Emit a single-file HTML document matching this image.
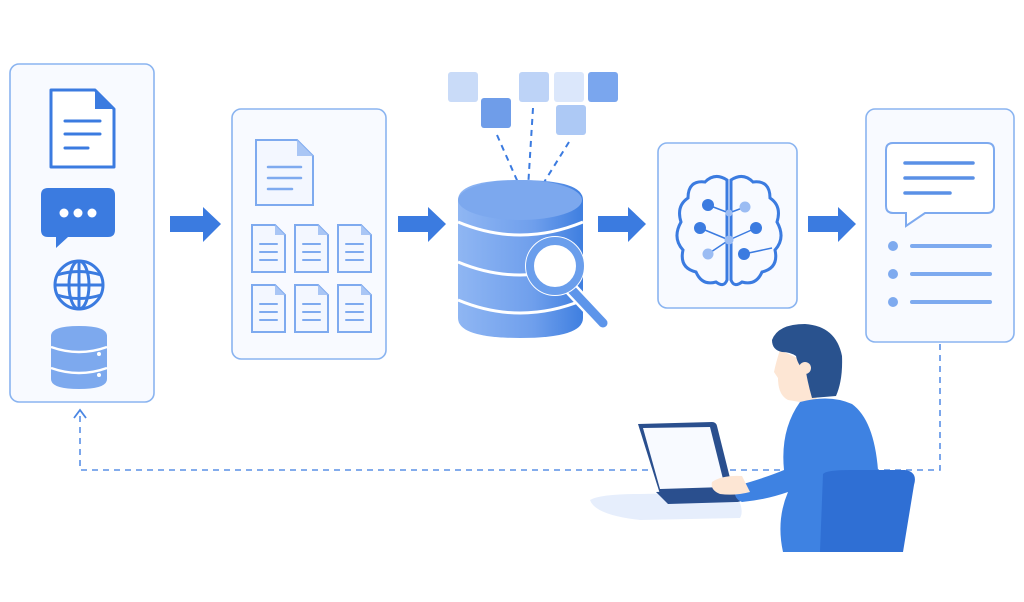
<!DOCTYPE html>
<html><head><meta charset="utf-8"><style>
html,body{margin:0;padding:0;background:#fff;}
svg{display:block}
</style></head><body>
<svg width="1024" height="602" viewBox="0 0 1024 602" xmlns="http://www.w3.org/2000/svg">
<defs>
<linearGradient id="dbg" x1="0" x2="1">
<stop offset="0" stop-color="#8fb6f3"/><stop offset="0.6" stop-color="#6f9fec"/><stop offset="1" stop-color="#3f7fe0"/>
</linearGradient>
</defs>
<rect width="1024" height="602" fill="#fff"/>
<!-- Dashed loop -->
<path d="M940,344 V470 H80 V412" fill="none" stroke="#5a90e6" stroke-width="1.6" stroke-dasharray="6,5"/>
<path d="M74,418 L80,410 L86,418" fill="none" stroke="#4a86e3" stroke-width="1.8"/>

<!-- Panel 1 -->
<rect x="10" y="64" width="144" height="338" rx="9" fill="#f8faff" stroke="#8ab4f0" stroke-width="1.6"/>
<path d="M51,90 H95 L114,109 V167 H51 Z" fill="#fff" stroke="#3b7be0" stroke-width="3" stroke-linejoin="round"/>
<path d="M95,90 V109 H114 Z" fill="#3b7be0"/>
<g stroke="#3b7be0" stroke-width="3" stroke-linecap="round"><line x1="65" y1="121" x2="100" y2="121"/><line x1="65" y1="134" x2="100" y2="134"/><line x1="65" y1="148" x2="88" y2="148"/></g>
<path d="M48,188 H108 Q115,188 115,195 V230 Q115,237 108,237 H68 L56,248 V237 H48 Q41,237 41,230 V195 Q41,188 48,188 Z" fill="#3b7be0"/>
<circle cx="64" cy="213" r="4.5" fill="#fff"/><circle cx="78" cy="213" r="4.5" fill="#fff"/><circle cx="92" cy="213" r="4.5" fill="#fff"/>
<g fill="none" stroke="#3b7be0" stroke-width="3"><circle cx="79" cy="285" r="24"/><ellipse cx="79" cy="285" rx="10" ry="24"/><path d="M57,275 Q79,268 101,275"/><path d="M57,295 Q79,302 101,295"/><line x1="79" y1="261" x2="79" y2="309"/><line x1="55" y1="285" x2="103" y2="285"/></g>
<path d="M51,336 Q51,326 79,326 Q107,326 107,336 V379 Q107,389 79,389 Q51,389 51,379 Z" fill="#7da9ee"/>
<path d="M51,347 Q79,357 107,347 M51,368 Q79,378 107,368" fill="none" stroke="#fff" stroke-width="2.5"/>
<circle cx="99" cy="354" r="2" fill="#fff"/><circle cx="99" cy="375" r="2" fill="#fff"/>

<!-- arrows -->
<g fill="#3b7be0">
<path d="M170,216 H203 V207 L221,224 L203,242 V232 H170 Z"/>
<path d="M398,216 H428 V207 L446,224 L428,242 V232 H398 Z"/>
<path d="M598,216 H628 V207 L646,224 L628,242 V232 H598 Z"/>
<path d="M808,216 H838 V207 L856,224 L838,242 V232 H808 Z"/>
</g>

<!-- Panel 2 -->
<rect x="232" y="109" width="154" height="250" rx="9" fill="#f8faff" stroke="#8ab4f0" stroke-width="1.6"/>
<path d="M256,140 H297 L313,156 V205 H256 Z" fill="#f3f7ff" stroke="#7eaaef" stroke-width="2"/>
<path d="M297,140 V156 H313 Z" fill="#a9c6f5"/>
<g stroke="#7eaaef" stroke-width="2.5" stroke-linecap="round"><line x1="268" y1="167" x2="301" y2="167"/><line x1="268" y1="178" x2="301" y2="178"/><line x1="268" y1="189" x2="292" y2="189"/></g>
<g id="sd">
<path d="M252,225 H275 L285,235 V272 H252 Z" fill="#f3f7ff" stroke="#7eaaef" stroke-width="2"/>
<path d="M275,225 V235 H285 Z" fill="#a9c6f5"/>
<g stroke="#7eaaef" stroke-width="2" stroke-linecap="round"><line x1="260" y1="244" x2="277" y2="244"/><line x1="260" y1="252" x2="277" y2="252"/><line x1="260" y1="260" x2="277" y2="260"/></g>
</g>
<use href="#sd" x="43"/><use href="#sd" x="86"/>
<use href="#sd" y="60"/><use href="#sd" x="43" y="60"/><use href="#sd" x="86" y="60"/>

<!-- Squares -->
<rect x="448" y="72" width="30" height="30" rx="3" fill="#c9dbf8"/>
<rect x="481" y="98" width="30" height="30" rx="3" fill="#6f9de9"/>
<rect x="519" y="72" width="30" height="30" rx="3" fill="#bdd3f7"/>
<rect x="554" y="72" width="30" height="30" rx="3" fill="#dbe7fb"/>
<rect x="588" y="72" width="30" height="30" rx="3" fill="#7aa6ee"/>
<rect x="556" y="105" width="30" height="30" rx="3" fill="#adc9f5"/>
<g stroke="#3b7be0" stroke-width="2" stroke-dasharray="6,5"><line x1="497" y1="135" x2="520" y2="187"/><line x1="533" y1="108" x2="528" y2="188"/><line x1="569" y1="142" x2="538" y2="192"/></g>

<!-- DB -->
<path d="M458,200 Q458,180 520,180 Q583,180 583,200 V318 Q583,338 520,338 Q458,338 458,318 Z" fill="url(#dbg)"/>
<ellipse cx="520" cy="200" rx="62" ry="20" fill="#7ca8ee"/>
<path d="M458,222 Q520,248 583,222 M458,262 Q520,288 583,262 M458,300 Q520,326 583,300" fill="none" stroke="#fff" stroke-width="3"/>
<line x1="572" y1="290" x2="603" y2="323" stroke="#fff" stroke-width="14" stroke-linecap="round"/>
<line x1="572" y1="290" x2="603" y2="323" stroke="#5d95ea" stroke-width="9" stroke-linecap="round"/>
<circle cx="555" cy="266" r="30" fill="#fff"/>
<circle cx="555" cy="266" r="25" fill="#fff" stroke="#6a9eec" stroke-width="8"/>

<!-- Panel 3 brain -->
<rect x="658" y="143" width="139" height="165" rx="9" fill="#f8faff" stroke="#8ab4f0" stroke-width="1.6"/>
<g fill="none" stroke="#3b7be0" stroke-width="3">
<path d="M727,180 Q715,172 705,182 Q688,180 688,198 Q676,206 681,222 Q672,238 683,250 Q679,268 696,272 Q702,286 716,282 Q724,288 727,280 Z"/>
<path d="M731,180 Q743,172 753,182 Q770,180 770,198 Q782,206 777,222 Q786,238 775,250 Q779,268 762,272 Q756,286 742,282 Q734,288 731,280 Z"/>
</g>
<g stroke="#3b7be0" stroke-width="1.5"><line x1="708" y1="205" x2="729" y2="213"/><line x1="729" y1="213" x2="745" y2="207"/><line x1="700" y1="228" x2="729" y2="240"/><line x1="729" y1="240" x2="756" y2="228"/><line x1="708" y1="254" x2="729" y2="240"/><line x1="744" y1="254" x2="772" y2="248"/></g>
<circle cx="708" cy="205" r="6" fill="#3b7be0"/><circle cx="745" cy="207" r="5.5" fill="#9bbcf3"/><circle cx="729" cy="213" r="3.5" fill="#9bbcf3"/>
<circle cx="700" cy="228" r="6" fill="#3b7be0"/><circle cx="756" cy="228" r="6" fill="#3b7be0"/><circle cx="729" cy="240" r="4.5" fill="#9bbcf3"/>
<circle cx="708" cy="254" r="5.5" fill="#9bbcf3"/><circle cx="744" cy="254" r="6" fill="#3b7be0"/>

<!-- Panel 4 -->
<rect x="866" y="109" width="148" height="233" rx="9" fill="#f8faff" stroke="#8ab4f0" stroke-width="1.6"/>
<path d="M893,143 H987 Q994,143 994,150 V206 Q994,213 987,213 H925 L906,226 V213 H893 Q886,213 886,206 V150 Q886,143 893,143 Z" fill="#fff" stroke="#7eaaef" stroke-width="2"/>
<g stroke="#5a90e6" stroke-width="3.5" stroke-linecap="round"><line x1="905" y1="163" x2="973" y2="163"/><line x1="905" y1="178" x2="973" y2="178"/><line x1="905" y1="193" x2="950" y2="193"/></g>
<g fill="#7eaaef"><circle cx="893" cy="246" r="5"/><circle cx="893" cy="274" r="5"/><circle cx="893" cy="302" r="5"/></g>
<g stroke="#7eaaef" stroke-width="4" stroke-linecap="round"><line x1="912" y1="246" x2="990" y2="246"/><line x1="912" y1="274" x2="990" y2="274"/><line x1="912" y1="302" x2="990" y2="302"/></g>

<!-- Person scene -->
<path d="M590,500 Q600,494 640,494 L735,492 Q745,510 740,518 L640,520 Q595,515 590,500 Z" fill="#e6eefc"/>
<path d="M638,424 L712,422 Q716,422 717,426 L733,490 L660,494 Z" fill="#2a4f8e"/>
<path d="M643,428 L710,427 L725,487 L660,489 Z" fill="#f8faff"/>
<path d="M656,492 L740,488 L742,498 Q742,502 736,502 L668,504 Z" fill="#2a4f8e"/>
<!-- neck/face -->
<path d="M780,350 Q776,362 774,372 L778,378 Q778,395 788,400 L800,402 L802,410 L818,406 L814,385 L806,362 Z" fill="#fde6d4"/>
<!-- body -->
<path d="M800,402 Q830,394 852,404 Q874,420 878,470 L880,552 L783,552 Q776,520 788,492 Q765,500 742,502 Q732,498 736,486 Q765,478 784,470 Q780,430 800,402 Z" fill="#3e82e2"/>
<!-- chair -->
<path d="M823,474 Q826,470 850,470 L905,470 Q918,472 914,485 L903,552 L820,552 Z" fill="#2f6fd4"/>
<!-- hand -->
<path d="M712,482 Q722,475 742,476 L750,492 Q735,496 720,494 Q710,490 712,482 Z" fill="#fde6d4"/>
<!-- hair -->
<path d="M772,340 Q778,324 805,324 Q836,326 842,356 Q843,380 836,396 L812,398 Q808,384 806,372 Q798,366 796,356 Q790,352 782,352 Q772,350 772,340 Z" fill="#29528e"/>
<circle cx="805" cy="368" r="6" fill="#fde6d4"/>
</svg>
</body></html>
